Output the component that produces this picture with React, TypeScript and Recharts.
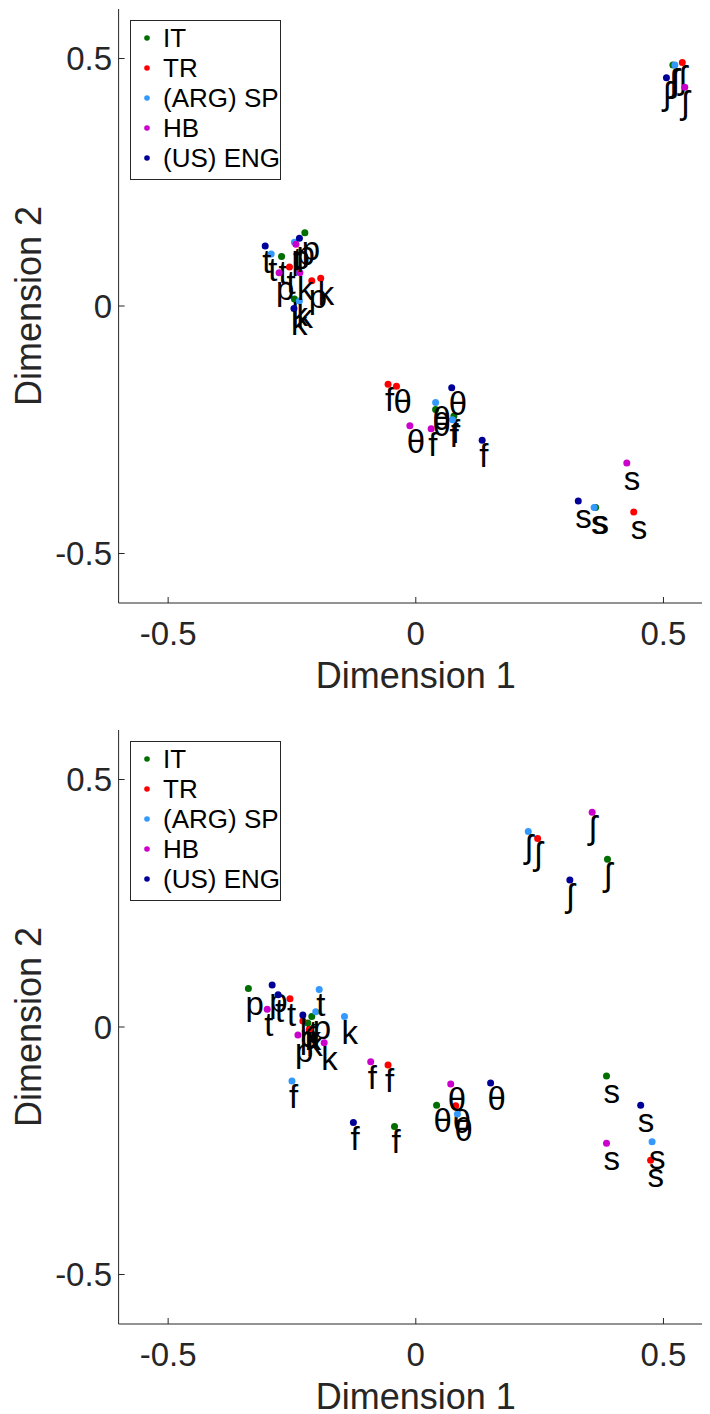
import React from 'react';
import { ScatterChart, Scatter, XAxis, YAxis, Legend } from 'recharts';

const phonemes = ['p', 't', 'k', 'f', 'θ', 's', 'ʃ'];
const languages = ['IT', 'TR', '(ARG) SP', 'HB', '(US) ENG'];
const colors = ['#006e00', '#ff0000', '#3399ff', '#cc00cc', '#000099'];
const xTicks = [-0.5, 0, 0.5];
const yTicks = [-0.5, 0, 0.5];
const axisLabelX = 'Dimension 1';
const axisLabelY = 'Dimension 2';

// Top panel: [x, y] per phoneme in order p, t, k, f, θ, s, ʃ
const topIT = [[-0.224, 0.148], [-0.271, 0.100], [-0.245, 0.014], [0.077, -0.222], [0.040, -0.209], [0.363, -0.407], [0.519, 0.487]];
const topTR = [[-0.210, 0.051], [-0.255, 0.079], [-0.192, 0.056], [-0.056, -0.158], [-0.039, -0.162], [0.440, -0.416], [0.538, 0.492]];
const topSP = [[-0.245, 0.129], [-0.292, 0.105], [-0.235, 0.010], [0.074, -0.230], [0.040, -0.195], [0.360, -0.407], [0.523, 0.487]];
const topHB = [[-0.276, 0.067], [-0.242, 0.125], [-0.234, 0.067], [0.031, -0.248], [-0.012, -0.242], [0.426, -0.317], [0.543, 0.442]];
const topENG = [[-0.235, 0.137], [-0.304, 0.121], [-0.246, -0.005], [0.134, -0.271], [0.0725, -0.165], [0.328, -0.394], [0.506, 0.461]];

// Bottom panel
const botIT = [[-0.338, 0.078], [-0.210, 0.021], [-0.218, 0.008], [-0.043, -0.201], [0.042, -0.158], [0.385, -0.099], [0.387, 0.339]];
const botTR = [[-0.228, 0.012], [-0.254, 0.057], [-0.215, -0.005], [-0.056, -0.077], [0.0805, -0.159], [0.474, -0.269], [0.246, 0.381]];
const botSP = [[-0.202, 0.031], [-0.195, 0.076], [-0.144, 0.021], [-0.250, -0.109], [0.084, -0.176], [0.477, -0.232], [0.227, 0.395]];
const botHB = [[-0.238, -0.016], [-0.300, 0.036], [-0.185, -0.032], [-0.091, -0.070], [0.0705, -0.115], [0.385, -0.235], [0.356, 0.434]];
const botENG = [[-0.290, 0.085], [-0.278, 0.065], [-0.228, 0.024], [-0.126, -0.193], [0.151, -0.113], [0.454, -0.158], [0.311, 0.297]];

const FONT = '"Liberation Sans", Arial, Helvetica, "DejaVu Sans", sans-serif';
const AXIS = '#262626';

const toPoints = (arr: number[][]) => arr.map((p, i) => ({ x: p[0], y: p[1], label: phonemes[i] }));

const makeShape = (color: string) => (props: any) => {
  const { cx, cy, payload } = props;
  if (cx == null || cy == null) return <g />;
  return (
    <g>
      <circle cx={cx} cy={cy} r={3.5} fill={color} />
      <text x={cx - 3} y={cy + 27} fontSize={33} fontFamily={FONT} fill="#000">
        {payload.label}
      </text>
    </g>
  );
};

const LegendBox = () => (
  <svg width={152} height={161} style={{ display: 'block' }}>
    <rect x={0.5} y={0.5} width={150} height={159} fill="#fff" stroke={AXIS} strokeWidth={1} />
    {languages.map((l, i) => (
      <g key={l}>
        <circle cx={17} cy={18 + 30 * i} r={2.8} fill={colors[i]} />
        <text x={33} y={18 + 30 * i} dy="0.35em" fontSize={26} fontFamily={FONT} fill="#000">
          {l}
        </text>
      </g>
    ))}
  </svg>
);

function Panel({ series, height, bottomH }: { series: number[][][]; height: number; bottomH: number }) {
  const tickStyle = { fontSize: 33, fill: AXIS, fontFamily: FONT };
  return (
    <ScatterChart width={720} height={height} margin={{ top: 1, right: 15, bottom: 0, left: 0 }}>
      <XAxis
        xAxisId="b"
        type="number"
        dataKey="x"
        domain={[-0.6, 0.6]}
        ticks={xTicks}
        orientation="bottom"
        height={bottomH}
        tickSize={-6}
        tickMargin={25}
        tick={tickStyle}
        stroke={AXIS}
        allowDataOverflow
        label={{
          content: (p: any) => {
            const vb = p.viewBox || {};
            return (
              <text x={vb.x + vb.width / 2} y={vb.y + 85} textAnchor="middle" fontSize={36} fontFamily={FONT} fill={AXIS}>
                {axisLabelX}
              </text>
            );
          },
        }}
      />
      <XAxis
        xAxisId="t"
        type="number"
        dataKey="x"
        domain={[-0.6, 0.6]}
        ticks={xTicks}
        orientation="top"
        height={0}
        tickSize={-6}
        tick={false}
        stroke={AXIS}
        allowDataOverflow
      />
      <YAxis
        yAxisId="l"
        type="number"
        dataKey="y"
        domain={[-0.6, 0.6]}
        ticks={yTicks}
        width={110.6}
        tickSize={-6}
        tickMargin={12.6}
        tick={tickStyle}
        stroke={AXIS}
        allowDataOverflow
        label={{
          content: (p: any) => {
            const vb = p.viewBox || {};
            const cy = vb.y + vb.height / 2;
            return (
              <text x={33} y={cy} textAnchor="middle" transform={`rotate(-90, 33, ${cy})`} fontSize={36} fontFamily={FONT} fill={AXIS}>
                {axisLabelY}
              </text>
            );
          },
        }}
      />
      <Legend
        layout="vertical"
        align="center"
        verticalAlign="middle"
        wrapperStyle={{ position: 'absolute', left: 121.5, top: 11.5, width: 152, height: 161 }}
        content={() => <LegendBox />}
      />
      {series.map((s, i) => (
        <Scatter
          key={languages[i]}
          name={languages[i]}
          xAxisId="b"
          yAxisId="l"
          data={toPoints(s)}
          fill={colors[i]}
          isAnimationActive={false}
          shape={makeShape(colors[i])}
        />
      ))}
    </ScatterChart>
  );
}

export default function App() {
  return (
    <div style={{ width: 702, overflow: 'hidden' }}>
      <Panel series={[topIT, topTR, topSP, topHB, topENG]} height={721} bottomH={126} />
      <Panel series={[botIT, botTR, botSP, botHB, botENG]} height={685} bottomH={90} />
    </div>
  );
}
